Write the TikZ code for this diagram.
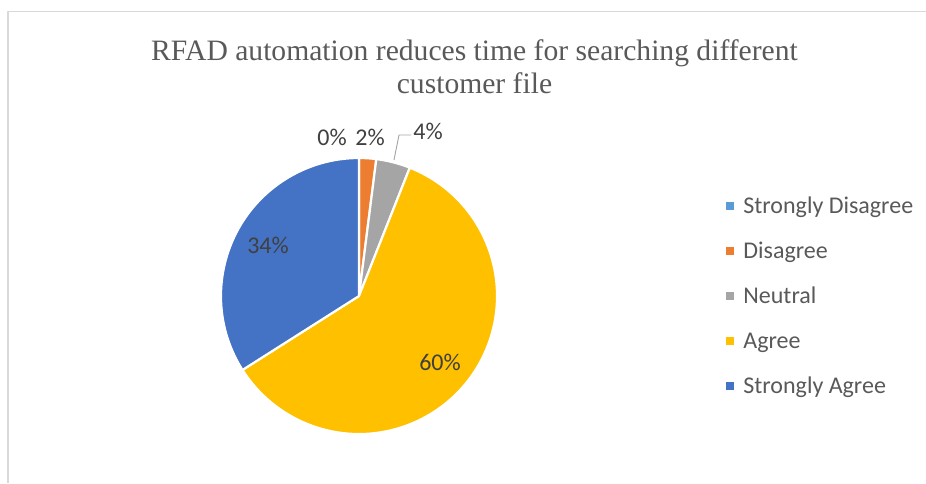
\documentclass[tikz,border=0pt]{standalone}
\usepackage{fontspec}
\setmainfont{Liberation Serif}
\newfontfamily\calibri{Carlito}
\usetikzlibrary{positioning}
\tikzset{x=1pt,y=-1pt}

\begin{document}
\begin{tikzpicture}
% Style
[
    line join=round,
    frame/.style={draw=frame_color, line width=1.3pt},
    slice/.style={draw=white, line width=2.2pt},
    leader/.style={draw=leader_color, line width=0.9pt},
    title text/.style={font=\fontsize{29.6}{34}\selectfont, text=title_color, inner sep=0pt, anchor=base},
    value text/.style={font=\calibri\fontsize{24}{28}\selectfont, text=value_color, inner sep=2pt},
    legend text/.style={font=\calibri\fontsize{24}{28}\selectfont, text=title_color, inner sep=0pt, anchor=base west},
    legend box/.style={fill=#1, inner sep=0pt, minimum size=8pt}
]

% Define: Colors
\colorlet{frame_color}{black!15}
\colorlet{title_color}{black!65}
\colorlet{value_color}{black!75}
\colorlet{leader_color}{black!35}
\definecolor{sd_color}{HTML}{5B9BD5}
\definecolor{d_color}{HTML}{ED7D31}
\definecolor{n_color}{HTML}{A5A5A5}
\definecolor{a_color}{HTML}{FFC000}
\definecolor{sa_color}{HTML}{4472C4}

%================================== Prepare ==================================
\useasboundingbox (0,0) rectangle (926,483);
\coordinate (pie) at (359,296);
\def\radius{138}

%=================================== Start ===================================
{
    % Draw: Frame
    \draw [frame] (926,11.5) -- (8,11.5) -- (8,483);

    % Draw: Title
    \node [title text] (title)  at (474.5,60) {RFAD automation reduces time for searching different};
    \node [title text] (title2) at (474.5,93) {customer file};

    % Draw: Slices (clockwise from the top)
    \foreach \col/\from/\to in {d_color/-90/-82.8, n_color/-82.8/-68.4,
                                a_color/-68.4/147.6, sa_color/147.6/270} {
        \filldraw [slice, fill=\col] (pie) -- ++(\from:\radius)
            arc [start angle=\from, end angle=\to, radius=\radius] -- cycle;
    }

    % Draw: Values
    \node [value text] (v0)  at (332,137)   {0\%};
    \node [value text] (v2)  at (370,137)   {2\%};
    \node [value text] (v4)  at (428,131)   {4\%};
    \node [value text] (v60) at (440,362)   {60\%};
    \node [value text] (v34) at (268,245.5) {34\%};

    % Draw: Leader line for 4%
    \coordinate (elbow) at (399,135);
    \coordinate (tip)   at (394,160);
    \draw [leader] (v4.west |- elbow) -- (elbow) -- (tip);

    % Draw: Legend
    \foreach \name/\col [count=\i] in {Strongly Disagree/sd_color, Disagree/d_color,
                                      Neutral/n_color, Agree/a_color, Strongly Agree/sa_color} {
        \node [legend box=\col] (box\i) at (730,161+45*\i) {};
        \node [legend text] (key\i) at ([xshift=9pt, yshift=-7.5pt]box\i.east) {\name};
    }
}
%==================================== END ====================================
\end{tikzpicture}
\end{document}
